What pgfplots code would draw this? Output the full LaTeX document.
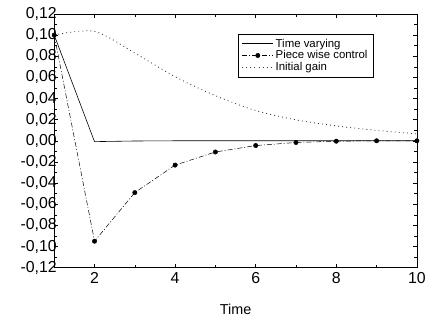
\documentclass[border=0pt]{standalone}
\usepackage{pgfplots}
\pgfplotsset{compat=1.18}
\usepackage{fontspec}
\setmainfont{Liberation Sans}
\begin{document}
\begin{tikzpicture}
\begin{axis}[
  scale only axis, width=364.5bp, height=255bp,
  xmin=1, xmax=10, ymin=-0.12, ymax=0.12,
  xtick={2,4,6,8,10}, minor x tick num=1,
  ytick={-0.12,-0.10,...,0.13}, minor y tick num=1,
  tick align=inside,
  major tick length=4pt, minor tick length=3pt,
  every tick/.style={black, thin},
  axis line style={black, thin},
  xlabel={Time},
  xlabel style={yshift=-14pt},
  tick label style={font=\fontsize{16}{17}\selectfont},
  label style={font=\fontsize{14.5}{16}\selectfont},
  yticklabel style={/pgf/number format/fixed, /pgf/number format/fixed zerofill, /pgf/number format/precision=2, /pgf/number format/use comma, xshift=6pt},
  /pgf/number format/assume math mode=true,
  xticklabel style={yshift=-1pt},
  legend style={at={(0.506,0.922)}, anchor=north west, draw=black, thin,
    font=\fontsize{11.5}{11}\selectfont, row sep=-2pt, inner xsep=4pt, inner ysep=3pt,
    cells={anchor=west}},
  legend image code/.code={\draw[mark repeat=2,mark phase=2,#1] plot coordinates {(0cm,0cm) (0.55cm,0cm) (1.1cm,0cm)};},
]
\addplot[black, solid, line width=0.6pt] coordinates {
 (1,0.100) (2,-0.0008) (3,-0.0002) (4,0) (5,0) (6,0) (7,0) (8,0) (9,0) (10,0)};
\addlegendentry{Time varying}
\addplot[black, dash pattern=on 5pt off 2pt on 1pt off 2pt, line width=0.5pt, mark=*, mark size=2.2pt, mark options={solid}] coordinates {
 (1,0.100) (2,-0.095) (3,-0.049) (4,-0.023) (5,-0.0106) (6,-0.0045) (7,-0.0016) (8,-0.0004) (9,0) (10,0)};
\addlegendentry{Piece wise control}
\addplot[black!80, dash pattern=on 0.9pt off 3.2pt, line width=0.8pt, smooth] coordinates {
 (1,0.100) (2,0.1035) (3,0.083) (4,0.0606) (5,0.0427) (6,0.0286) (7,0.0198) (8,0.0141) (9,0.0098) (10,0.0066)};
\addlegendentry{Initial gain}
\end{axis}
\path (current axis.south west) ++(-54.5bp,-56bp) rectangle ++(429bp,325bp);
\end{tikzpicture}
\end{document}
